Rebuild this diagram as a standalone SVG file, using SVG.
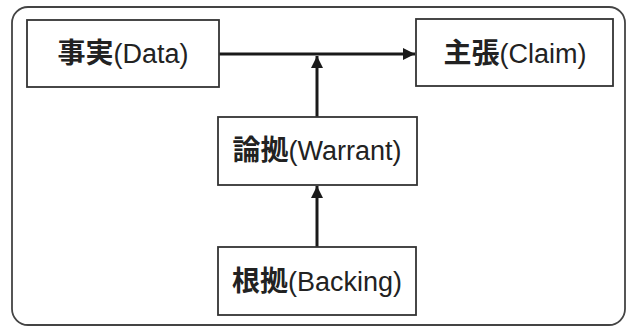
<svg xmlns="http://www.w3.org/2000/svg" width="630" height="327" viewBox="0 0 630 327">
<defs>
<style>
.box{fill:#fff;stroke:#333;stroke-width:1.8}
.lbl{font-family:"Liberation Sans","Noto Sans CJK JP",sans-serif;font-size:27px;fill:#222;text-anchor:middle}
.kj{font-family:"Noto Sans CJK JP",sans-serif;font-weight:bold;font-size:28px}
.conn{stroke:#1a1a1a;stroke-width:3;fill:none}
</style>
<marker id="ah" viewBox="0 0 10 10" refX="10" refY="5" markerWidth="4" markerHeight="4" orient="auto" markerUnits="strokeWidth">
<path d="M0,0 L10,5 L0,10 z" fill="#1a1a1a"/>
</marker>
</defs>
<rect x="12" y="7" width="613" height="318" rx="16" ry="16" fill="#fff" stroke="#444" stroke-width="1.8"/>
<g id="connectors">
<line class="conn" x1="219" y1="54" x2="415" y2="54" marker-end="url(#ah)"/>
<line class="conn" x1="317" y1="117" x2="317" y2="56" marker-end="url(#ah)"/>
<line class="conn" x1="317" y1="247" x2="317" y2="186" marker-end="url(#ah)"/>
</g>
<g id="data">
<rect class="box" x="27" y="20" width="192" height="67"/>
<text class="lbl" x="123" y="63"><tspan class="kj">事実</tspan>(Data)</text>
</g>
<g id="claim">
<rect class="box" x="416" y="19" width="197" height="67"/>
<text class="lbl" x="515" y="63"><tspan class="kj">主張</tspan>(Claim)</text>
</g>
<g id="warrant">
<rect class="box" x="218" y="117" width="199" height="68"/>
<text class="lbl" x="317" y="160"><tspan class="kj">論拠</tspan>(Warrant)</text>
</g>
<g id="backing">
<rect class="box" x="218" y="247" width="198" height="68"/>
<text class="lbl" x="317" y="291"><tspan class="kj">根拠</tspan>(Backing)</text>
</g>
</svg>
